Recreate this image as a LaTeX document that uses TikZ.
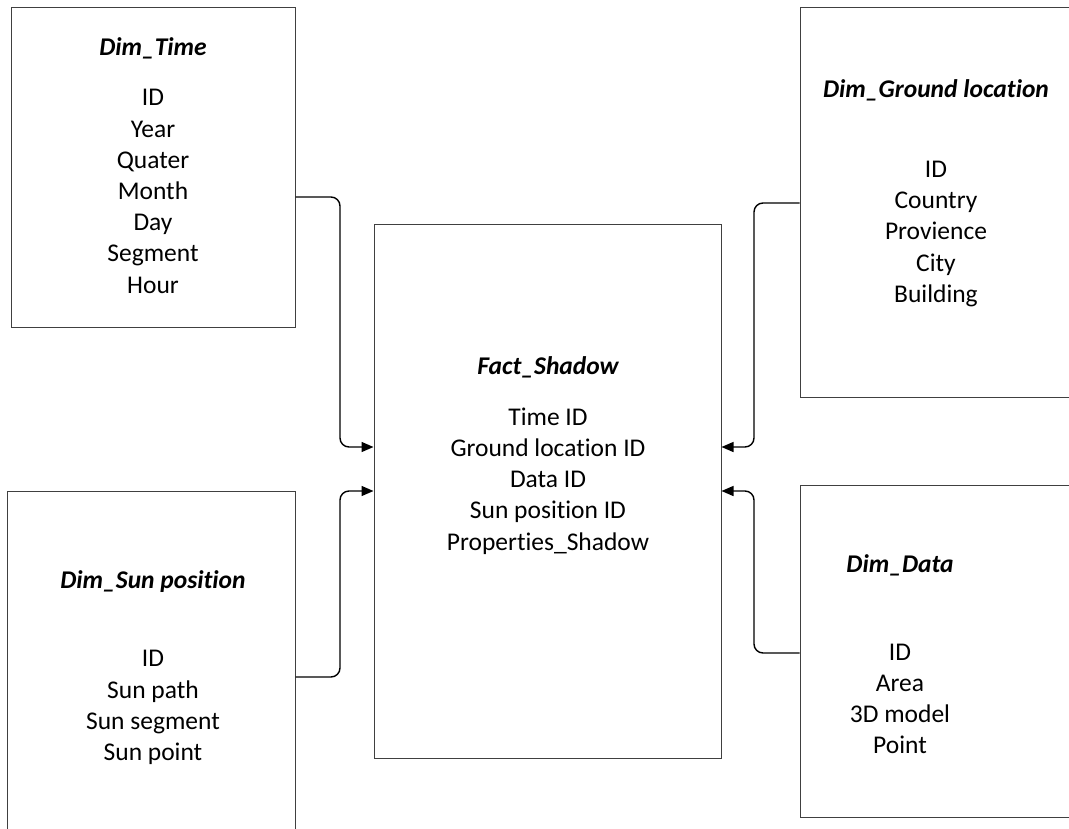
\documentclass[tikz,border=0pt]{standalone}
\usepackage{fontspec}
\setmainfont{Carlito}[Ligatures=NoCommon]
\usetikzlibrary{arrows.meta}
\begin{document}
\begin{tikzpicture}[x=1pt,y=-1pt,
  box/.style={draw=black!75, line width=1pt, inner sep=0pt},
  boxtitle/.style={font=\fontsize{25.5}{30}\selectfont\bfseries\itshape, inner sep=0pt},
  boxbody/.style={font=\fontsize{25.5}{31.2}\selectfont, align=center, inner sep=0pt},
  conn/.style={draw=black, line width=1.4pt, rounded corners=9pt,
    -{Triangle[length=12pt,width=10pt]}}]
\useasboundingbox[fill=white] (0,0) rectangle (1069,828);

% entity boxes (the right-hand and lower-left ones run past the page edge)
\node[box, minimum width=284pt, minimum height=320pt] (time) at (153,167) {};
\node[box, minimum width=288pt, minimum height=360pt] (sun) at (151,671) {};
\node[box, minimum width=347pt, minimum height=534pt] (fact) at (547.5,491) {};
\node[box, minimum width=290pt, minimum height=390pt] (ground) at (945,202) {};
\node[box, minimum width=290pt, minimum height=332pt] (data) at (945,651) {};

% titles
\node[boxtitle] (timetitle) at (153,48) {Dim\_Time};
\node[boxtitle] (suntitle) at (153,582) {Dim\_Sun position};
\node[boxtitle] (facttitle) at (548,367) {Fact\_Shadow};
\node[boxtitle] (groundtitle) at (936,90) {Dim\_Ground location};
\node[boxtitle] (datatitle) at (900,565) {Dim\_Data};

% attribute lists
\node[boxbody] (timebody) at (153,191.5) {ID\\Year\\Quater\\Month\\Day\\Segment\\Hour};
\node[boxbody] (sunbody) at (153,707.5) {ID\\Sun path\\Sun segment\\Sun point};
\node[boxbody] (factbody) at (548,481) {Time ID\\Ground location ID\\Data ID\\Sun position ID\\Properties\_Shadow};
\node[boxbody] (groundbody) at (936,234) {ID\\Country\\Provience\\City\\Building};
\node[boxbody] (databody) at (900,699) {ID\\Area\\3D model\\Point};

% junction levels of the connectors
\coordinate (tj) at (0,197);
\coordinate (sj) at (0,677);
\coordinate (gj) at (0,203);
\coordinate (dj) at (0,653);
\coordinate (fa) at (0,447);
\coordinate (fb) at (0,491);

% connectors into the fact table
\draw[conn] (time.east |- tj) -- (340,197) -- (340,447) -- (fact.west |- fa);
\draw[conn] (sun.east |- sj) -- (340,677) -- (340,491) -- (fact.west |- fb);
\draw[conn] (ground.west |- gj) -- (754,203) -- (754,447) -- (fact.east |- fa);
\draw[conn] (data.west |- dj) -- (754,653) -- (754,491) -- (fact.east |- fb);
\end{tikzpicture}
\end{document}
